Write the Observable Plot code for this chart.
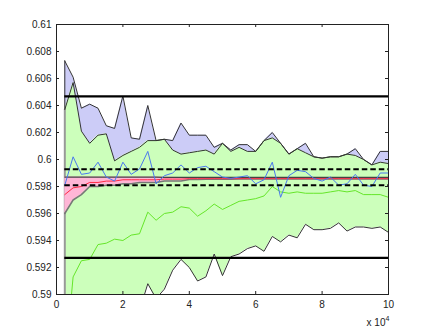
<!DOCTYPE html>
<html><head><meta charset="utf-8">
<script src="https://cdn.jsdelivr.net/npm/d3@7"></script>
<script src="https://cdn.jsdelivr.net/npm/@observablehq/plot@0.6"></script>
<style>html,body{margin:0;padding:0;background:#fff;}</style>
</head><body><div id="chart"></div>
<script>
// x positions (units of 10^4)
const xs = [0.25,0.5,0.75,1,1.25,1.5,1.75,2,2.25,2.5,2.75,3,3.25,3.5,3.75,4,4.25,4.5,4.75,5,
            5.25,5.5,5.75,6,6.25,6.5,6.75,7,7.25,7.5,7.75,8,8.25,8.5,8.75,9,9.25,9.5,9.75,10];
// upper envelope (top of lavender band)
const maxEnv = [0.6073,0.6061,0.6038,0.6041,0.6038,0.6025,0.6023,0.6047,0.6016,0.6015,
                0.6040,0.6014,0.6015,0.6014,0.6027,0.6018,0.6018,0.6018,0.6009,0.6012,
                0.6007,0.6011,0.6011,0.6006,0.6014,0.6020,0.6012,0.6004,0.6008,0.6012,
                0.6002,0.6001,0.6002,0.6002,0.6004,0.6008,0.6000,0.5996,0.6006,0.6006];
// top of green band
const greenTop = [0.6037,0.6057,0.6021,0.6012,0.6018,0.6019,0.5999,0.6003,0.6006,0.6009,
                  0.6014,0.6014,0.6015,0.6007,0.6004,0.6005,0.6006,0.6007,0.6004,0.6012,
                  0.6006,0.6009,0.6006,0.6006,0.6014,0.6016,0.6012,0.6004,0.6008,0.6005,
                  0.6002,0.6001,0.6002,0.6002,0.6004,0.6003,0.6000,0.5996,0.5998,0.5997];
// lower envelope (bottom of green band)
const minEnv = [0.5860,0.5865,0.5870,0.5875,0.5878,0.5882,0.5880,0.5885,0.5880,0.5888,
                0.5908,0.5897,0.5904,0.5918,0.5926,0.5920,0.5910,0.5913,0.5930,0.5914,
                0.5928,0.5930,0.5934,0.5936,0.5932,0.5943,0.5939,0.5944,0.5942,0.5952,
                0.5948,0.5948,0.5949,0.5953,0.5947,0.5950,0.5950,0.5949,0.5950,0.5946];
// bright green line
const greenLine = [0.5845,0.5913,0.5925,0.5926,0.5937,0.5938,0.5941,0.5940,0.5944,0.5945,
                   0.5961,0.5955,0.5960,0.5961,0.5965,0.5964,0.5958,0.5962,0.5967,0.5963,
                   0.5966,0.5969,0.5970,0.5971,0.5973,0.5980,0.5976,0.5975,0.5976,0.5975,
                   0.5975,0.5975,0.5976,0.5977,0.5976,0.5977,0.5974,0.5974,0.5974,0.5972];
// blue line
const blueLine = [0.5981,0.6002,0.5989,0.5990,0.5998,0.5987,0.5984,0.5998,0.5989,0.5993,
                  0.6006,0.5982,0.5988,0.5990,0.5996,0.5990,0.5994,0.5995,0.5991,0.5987,
                  0.5986,0.5987,0.5988,0.5982,0.5985,0.5998,0.5972,0.5988,0.5992,0.5991,
                  0.5986,0.5984,0.5987,0.5981,0.5982,0.5989,0.5981,0.5980,0.5990,0.5990];
// red line
const redLine = [0.5974,0.5979,0.5980,0.5983,0.5983,0.5984,0.5984,0.5985,0.5985,0.5985,
                 0.5985,0.5985,0.59855,0.59855,0.59855,0.59858,0.59858,0.59858,0.59858,0.59858,
                 0.59858,0.59858,0.59858,0.59858,0.59858,0.59858,0.59858,0.59858,0.59858,0.59858,
                 0.59858,0.59858,0.59858,0.59858,0.59858,0.59858,0.59858,0.59858,0.59858,0.59858];
// pink band bounds
const pinkHigh = [0.5987,0.5987,0.5987,0.5987,0.5987,0.5987,0.5987,0.5987,0.5987,0.5987,
                  0.5987,0.5987,0.59868,0.59868,0.59867,0.59867,0.59867,0.59867,0.59867,0.59867,
                  0.59867,0.59867,0.59867,0.59867,0.59867,0.59867,0.59867,0.59867,0.59867,0.59867,
                  0.59867,0.59867,0.59867,0.59867,0.59867,0.59867,0.59867,0.59867,0.59867,0.59867];
const pinkLow = [0.5960,0.5970,0.5974,0.5980,0.5980,0.5981,0.5981,0.5982,0.5982,0.5983,
                 0.5983,0.5983,0.5984,0.5984,0.5984,0.59852,0.59852,0.59853,0.59853,0.59854,
                 0.59854,0.59855,0.59855,0.59855,0.59855,0.59855,0.59855,0.59855,0.59855,0.59855,
                 0.59855,0.59855,0.59855,0.59855,0.59855,0.59855,0.59855,0.59855,0.59855,0.59855];
// reference levels
const solidLevels = [0.60467, 0.59271];
const dashedLevels = [0.59928, 0.5981];
// ticks
const xTicks = [0, 2, 4, 6, 8, 10];
const xTickLabels = ["0", "2", "4", "6", "8", "10"];
const yTicks = [0.59, 0.592, 0.594, 0.596, 0.598, 0.6, 0.602, 0.604, 0.606, 0.608, 0.61];
const yTickLabels = ["0.59", "0.592", "0.594", "0.596", "0.598", "0.6", "0.602", "0.604", "0.606", "0.608", "0.61"];
const xExpBase = ["x 10"];
const xExpPower = ["4"];

const W = 429, H = 332, ML = 56, MR = 41, MT = 24, MB = 38;
const FW = W - ML - MR, FH = H - MT - MB;
const idx = xs.map((_, i) => i);
const X = i => xs[i];
const ink = "#333";

const plot = Plot.plot({
  width: W, height: H,
  marginLeft: ML, marginRight: MR, marginTop: MT, marginBottom: MB,
  x: {domain: [0, 10]},
  y: {domain: [0.59, 0.61]},
  style: {fontFamily: "'Liberation Sans', Arial, Helvetica, sans-serif", fontSize: "10px", background: "white", color: "#222"},
  marks: [
    Plot.areaY(idx, {x: X, y1: i => greenTop[i], y2: i => maxEnv[i], fill: "#ccccf7", clip: true}),
    Plot.areaY(idx, {x: X, y1: i => minEnv[i], y2: i => greenTop[i], fill: "#ccffbb", clip: true}),
    Plot.ruleX([0], {x: X, y1: i => minEnv[i], y2: i => greenTop[i], stroke: "#999", strokeWidth: 2, clip: true}),
    Plot.ruleX([0], {x: X, y1: i => greenTop[i], y2: i => maxEnv[i], stroke: ink, strokeWidth: 1, clip: true}),
    Plot.lineY(idx, {x: X, y: i => minEnv[i], stroke: ink, strokeWidth: 1, clip: true}),
    Plot.lineY(idx, {x: X, y: i => greenTop[i], stroke: ink, strokeWidth: 1, clip: true}),
    Plot.lineY(idx, {x: X, y: i => maxEnv[i], stroke: ink, strokeWidth: 1, clip: true}),
    Plot.lineY(idx, {x: X, y: i => greenLine[i], stroke: "#66e62a", strokeWidth: 1, clip: true}),
    Plot.areaY(idx, {x: X, y1: i => pinkLow[i], y2: i => pinkHigh[i], fill: "#ffb6d6", clip: true}),
    Plot.lineY(idx, {x: X, y: i => pinkLow[i], stroke: "#777", strokeWidth: 1.5, clip: true}),
    Plot.lineY(idx, {x: X, y: i => pinkHigh[i], stroke: "#444", strokeWidth: 1.2, clip: true}),
    Plot.lineY(idx, {x: X, y: i => redLine[i], stroke: "#ff2a45", strokeWidth: 1, clip: true}),
    Plot.lineY(idx, {x: X, y: i => blueLine[i], stroke: "#4a78ee", strokeWidth: 1, clip: true}),
    Plot.ruleY(dashedLevels, {y: d => d, x1: xs[0], x2: xs[xs.length - 1], stroke: "#000", strokeWidth: 2, strokeDasharray: "5.5,3"}),
    Plot.ruleY(solidLevels, {y: d => d, x1: xs[0], x2: xs[xs.length - 1], stroke: "#000", strokeWidth: 2.2}),
    Plot.frame({stroke: "#222", strokeWidth: 1}),
    // inward ticks on all four sides
    Plot.tickY(yTicks, {y: d => d, insetRight: FW - 3, stroke: "#222"}),
    Plot.tickY(yTicks, {y: d => d, insetLeft: FW - 3, stroke: "#222"}),
    Plot.tickX(xTicks, {x: d => d, insetTop: FH - 3, stroke: "#222"}),
    Plot.tickX(xTicks, {x: d => d, insetBottom: FH - 3, stroke: "#222"}),
    Plot.axisY(yTicks, {anchor: "left", tickSize: 0, tickPadding: 5, label: null,
      tickFormat: d => yTickLabels[yTicks.indexOf(d)]}),
    Plot.axisX(xTicks, {anchor: "bottom", tickSize: 0, tickPadding: 6, label: null,
      tickFormat: d => xTickLabels[xTicks.indexOf(d)]}),
    Plot.text(xExpBase, {text: d => d, frameAnchor: "bottom-right", dx: -3, dy: 31, textAnchor: "end", lineAnchor: "bottom", fontSize: 10, fill: "#222"}),
    Plot.text(xExpPower, {text: d => d, frameAnchor: "bottom-right", dx: 1, dy: 26.5, textAnchor: "end", lineAnchor: "bottom", fontSize: 7, fill: "#222"})
  ]
});
document.getElementById("chart").appendChild(plot);
</script>
</body></html>
